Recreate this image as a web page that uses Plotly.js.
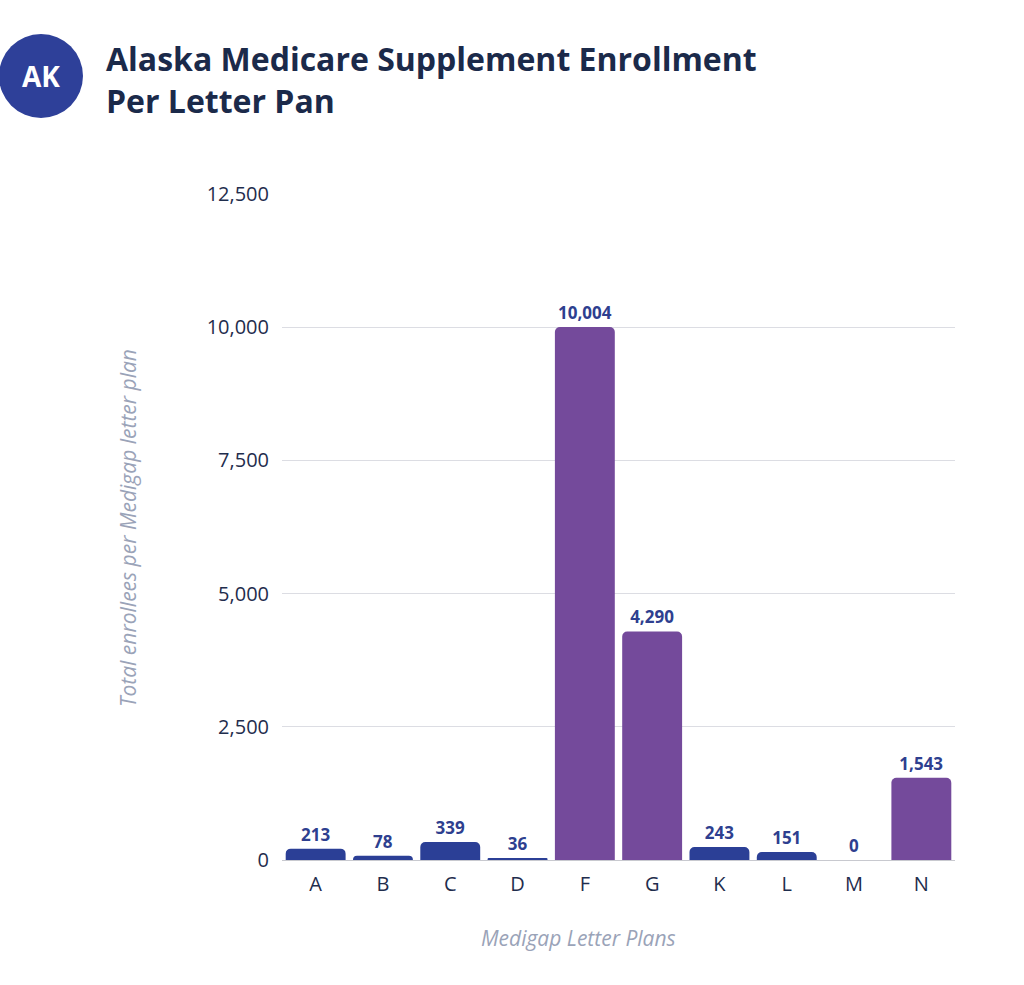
<!DOCTYPE html>
<html>
<head>
<meta charset="utf-8">
<script src="https://cdn.plot.ly/plotly-3.0.1.min.js"></script>
<style>html,body{margin:0;padding:0;background:#fff;}#chart{width:1024px;height:985px;}</style>
</head>
<body>
<div id="chart"></div>
<script>
const plans = ['A','B','C','D','F','G','K','L','M','N'];
const enrollees = [213, 78, 339, 36, 10004, 4290, 243, 151, 0, 1543];
const barColors = ['#2b3f96','#2b3f96','#2b3f96','#2b3f96','#744a9b','#744a9b','#2b3f96','#2b3f96','#2b3f96','#744a9b'];
const yTicks = [0, 2500, 5000, 7500, 10000, 12500];
const yTickLabels = ['0','2,500','5,000','7,500','10,000','12,500'];

const FONT = 'Open Sans, Lato, sans-serif';
const L = 282, R = 69, T = 194, B = 125, W = 1024, H = 985;
const pw = W - L - R, ph = H - T - B;
const px = x => (x - L) / pw;
const py = y => (H - B - y) / ph;

const trace = {
  type: 'bar',
  x: plans,
  y: enrollees,
  marker: {color: barColors},
  text: enrollees.map(v => v.toLocaleString('en-US')),
  textposition: 'outside',
  cliponaxis: false,
  textfont: {family: FONT, size: 17, color: '#2e3f8f', weight: 700},
  hoverinfo: 'x+y'
};

const layout = {
  width: W, height: H,
  margin: {l: L, r: R, t: T, b: B},
  paper_bgcolor: '#fff', plot_bgcolor: '#fff',
  bargap: 0.11,
  barcornerradius: 5,
  showlegend: false,
  font: {family: FONT, color: '#1f2d4d'},
  xaxis: {
    tickfont: {family: FONT, size: 20, color: '#1f2d4d'},
    showgrid: false, zeroline: false, showline: false,
    ticks: '', ticklabelstandoff: 10
  },
  yaxis: {
    range: [0, 12500],
    tickvals: yTicks, ticktext: yTickLabels,
    tickfont: {family: FONT, size: 20, color: '#1f2d4d'},
    showgrid: true, gridcolor: '#dcdde3', gridwidth: 1,
    zeroline: true, zerolinecolor: '#c8c9cf', zerolinewidth: 1,
    showline: false, ticks: '', ticklabelstandoff: 12
  },
  shapes: [{
    type: 'circle', xref: 'paper', yref: 'paper',
    xsizemode: 'pixel', ysizemode: 'pixel',
    xanchor: px(41), yanchor: py(76),
    x0: -42, x1: 42, y0: -42, y1: 42,
    fillcolor: '#2e4099', line: {width: 0}
  }],
  annotations: [
    {text: 'AK', xref: 'paper', yref: 'paper', x: px(41), y: py(76),
     xanchor: 'center', yanchor: 'middle', showarrow: false,
     font: {family: FONT, size: 28, color: '#ffffff', weight: 700}},
    {text: 'Alaska Medicare Supplement Enrollment<br>Per Letter Pan', xref: 'paper', yref: 'paper',
     x: px(104), y: py(80), xanchor: 'left', yanchor: 'middle', align: 'left', showarrow: false,
     font: {family: FONT, size: 32, color: '#1b2a4a', weight: 700}},
    {text: 'Total enrollees per Medigap letter plan', xref: 'paper', yref: 'paper',
     x: px(128), y: py(528), xanchor: 'center', yanchor: 'middle', textangle: -90, showarrow: false,
     font: {family: FONT, size: 21, color: '#9aa3b8', style: 'italic'}},
    {text: 'Medigap Letter Plans', xref: 'paper', yref: 'paper',
     x: px(578), y: py(938), xanchor: 'center', yanchor: 'middle', showarrow: false,
     font: {family: FONT, size: 21, color: '#9aa3b8', style: 'italic'}}
  ]
};

Plotly.newPlot('chart', [trace], layout, {displayModeBar: false, responsive: false});
</script>
</body>
</html>
